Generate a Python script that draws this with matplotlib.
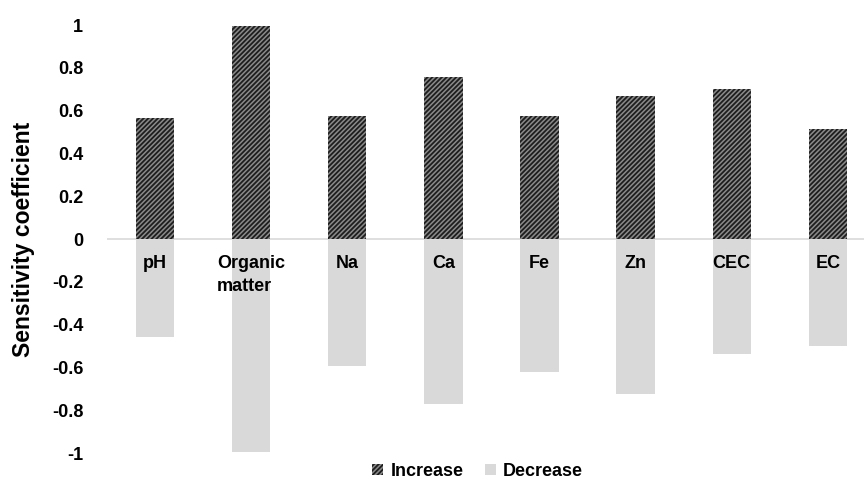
import matplotlib
matplotlib.use("Agg")
import matplotlib.pyplot as plt
import numpy as np

categories = ["pH", "Organic\nmatter", "Na", "Ca", "Fe", "Zn", "CEC", "EC"]
increase = [0.566, 0.995, 0.577, 0.76, 0.577, 0.67, 0.70, 0.516]
decrease = [-0.456, -0.993, -0.591, -0.773, -0.619, -0.722, -0.535, -0.498]
yticks = [-1, -0.8, -0.6, -0.4, -0.2, 0, 0.2, 0.4, 0.6, 0.8, 1]

plt.rcParams['font.family'] = ['Liberation Sans', 'DejaVu Sans']
plt.rcParams['hatch.linewidth'] = 1.3

fig = plt.figure(figsize=(8.64, 4.84), dpi=100)
ax = fig.add_axes([0.1238, 0.064, 0.8762, 0.884])

x = np.arange(len(categories))
ax.bar(x, increase, width=0.4, color="#8a8a8a", edgecolor="#1e1e1e",
       hatch="///////", linewidth=0, label="Increase", zorder=2)
ax.bar(x, decrease, width=0.4, color="#d9d9d9", linewidth=0,
       label="Decrease", zorder=2)
ax.axhline(0, color="#d9d9d9", linewidth=1.2, zorder=1)

for xi, name in zip(x, categories):
    ax.text(xi, -0.075, name, ha="center", va="top", multialignment="left",
            fontsize=13, fontweight="bold", linespacing=1.45, zorder=3)

ax.set_xlim(-0.5, 7.376)
ax.set_ylim(-1, 1)
ax.set_xticks([])
ax.set_yticks(yticks)
ax.set_yticklabels([f"{t:g}" for t in yticks], fontsize=13, fontweight="bold")
ax.tick_params(axis="y", length=0, pad=17)
for s in ax.spines.values():
    s.set_visible(False)
ax.set_ylabel("Sensitivity coefficient", fontsize=16.5, fontweight="bold", labelpad=12)

fig.legend(loc="lower center", bbox_to_anchor=(0.553, -0.025), ncol=2, frameon=False,
           prop={"size": 13, "weight": "bold"}, handlelength=0.6, handleheight=0.6,
           handletextpad=0.4, columnspacing=1.2)

fig.savefig("out.png", dpi=100)
